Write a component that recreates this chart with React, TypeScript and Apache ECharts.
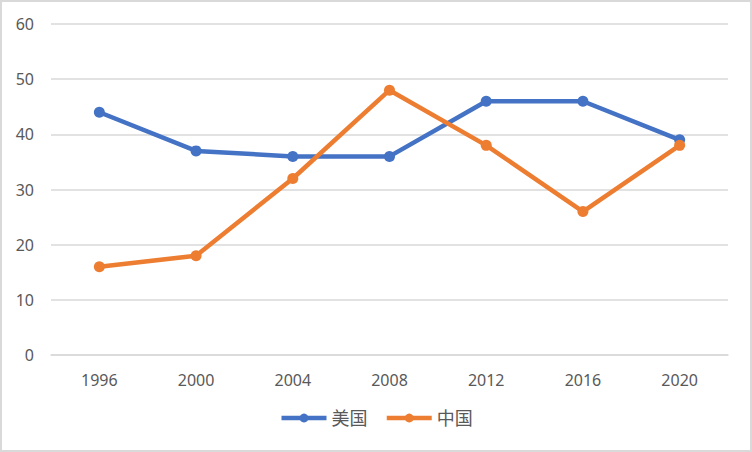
import * as echarts from 'echarts';
import React, { useEffect, useRef } from 'react';

const years = ['1996', '2000', '2004', '2008', '2012', '2016', '2020'];
const usaValues = [44, 37, 36, 36, 46, 46, 39];
const chinaValues = [16, 18, 32, 48, 38, 26, 38];
const seriesNames = ['美国', '中国'];

const FONT = '"Noto Sans", "Noto Sans CJK SC", sans-serif';

const App: React.FC = () => {
  const chartRef = useRef<HTMLDivElement>(null);

  useEffect(() => {
    if (!chartRef.current) return;
    const chart = echarts.init(chartRef.current, undefined, { renderer: 'svg' });

    const lineSeries = (name: string, data: number[], color: string) => ({
      name,
      type: 'line' as const,
      data,
      symbol: 'circle',
      symbolSize: 11,
      lineStyle: { width: 4.5, color },
      itemStyle: { color },
    });

    chart.setOption({
      animation: false,
      textStyle: { fontFamily: FONT },
      graphic: [
        {
          type: 'rect',
          shape: { x: 1, y: 1, width: 750, height: 450 },
          style: { fill: 'none', stroke: '#d9d9d9', lineWidth: 2 },
          silent: true,
        },
      ],
      grid: { left: 51, right: 24, top: 24, bottom: 97 },
      legend: {
        bottom: 20,
        left: 'center',
        itemWidth: 45,
        itemHeight: 11,
        itemGap: 17,
        data: seriesNames,
        lineStyle: { width: 4.5 },
        textStyle: { fontSize: 18, color: '#595959', fontFamily: FONT },
      },
      xAxis: {
        type: 'category',
        data: years,
        boundaryGap: true,
        axisLine: { lineStyle: { color: '#d9d9d9', width: 1.5 } },
        axisTick: { show: false },
        axisLabel: { fontSize: 16, color: '#595959', margin: 17 },
      },
      yAxis: {
        type: 'value',
        min: 0,
        max: 60,
        interval: 10,
        axisLine: { show: false },
        axisTick: { show: false },
        splitLine: { lineStyle: { color: '#d9d9d9', width: 1.5 } },
        axisLabel: { fontSize: 16, color: '#595959', margin: 17 },
      },
      series: [
        lineSeries(seriesNames[0], usaValues, '#4472c4'),
        lineSeries(seriesNames[1], chinaValues, '#ed7d31'),
      ],
    });

    return () => chart.dispose();
  }, []);

  return (
    <div
      ref={chartRef}
      style={{ position: 'absolute', left: 0, top: 0, width: 752, height: 452, background: '#fff' }}
    />
  );
};

export default App;
